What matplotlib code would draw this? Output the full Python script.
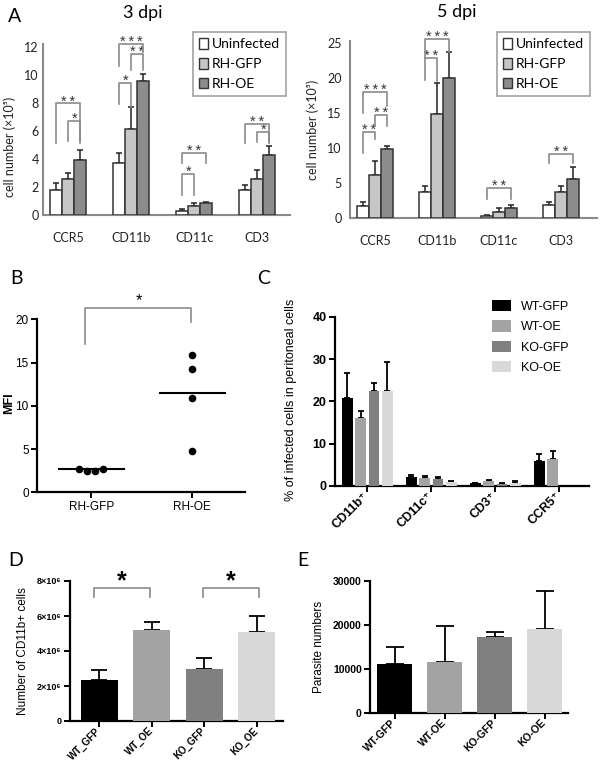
import matplotlib
matplotlib.use("Agg")
import numpy as np
import matplotlib.pyplot as plt
from matplotlib.patches import Patch

# ---- data ----
markers_a = ["CCR5", "CD11b", "CD11c", "CD3"]
groups_a = ["Uninfected", "RH-GFP", "RH-OE"]

d3_uninf = [1.75, 3.7, 0.32, 1.8]
d3_uninf_err = [0.55, 0.7, 0.08, 0.35]
d3_gfp = [2.55, 6.1, 0.65, 2.6]
d3_gfp_err = [0.45, 1.6, 0.18, 0.6]
d3_oe = [3.9, 9.55, 0.83, 4.3]
d3_oe_err = [0.7, 0.5, 0.07, 0.65]

d5_uninf = [1.75, 3.8, 0.38, 1.95]
d5_uninf_err = [0.6, 0.85, 0.14, 0.38]
d5_gfp = [6.2, 14.9, 0.95, 3.8]
d5_gfp_err = [2.0, 4.5, 0.5, 0.8]
d5_oe = [9.85, 20.1, 1.45, 5.55]
d5_oe_err = [0.5, 3.6, 0.38, 1.8]

# (group, bar_i, bar_j, top, left leg end, right leg end, label)
d3_sig = [(0, 0, 2, 7.95, 5.1, 5.1, "**"), (0, 1, 2, 6.7, 5.3, 5.3, "*"),
          (1, 0, 2, 12.2, 10.6, 11.6, "***"), (1, 1, 2, 11.5, 10.3, 10.3, "**"),
          (1, 0, 1, 9.4, 7.9, 7.7, "*"),
          (2, 0, 2, 4.45, 3.7, 3.7, "**"), (2, 0, 1, 2.95, 1.45, 1.45, "*"),
          (3, 0, 2, 6.5, 5.1, 5.1, "**"), (3, 1, 2, 5.95, 5.2, 5.2, "*")]
d5_sig = [(0, 0, 2, 18.0, 15.0, 16.0, "***"), (0, 1, 2, 14.76, 13.2, 13.2, "**"),
          (0, 0, 1, 12.4, 9.3, 11.3, "**"),
          (1, 0, 2, 25.6, 22.9, 23.8, "***"), (1, 0, 1, 22.9, 19.8, 19.6, "**"),
          (2, 0, 2, 4.3, 2.7, 2.7, "**"),
          (3, 0, 2, 9.2, 7.9, 7.9, "**")]

b_groups = ["RH-GFP", "RH-OE"]
b_gfp = [2.75, 2.5, 2.5, 2.75]
b_oe = [15.9, 14.3, 10.9, 4.75]
b_center = [2.65, 11.45]

c_markers = ["CD11b⁺", "CD11c⁺", "CD3⁺", "CCR5⁺"]
c_groups = ["WT-GFP", "WT-OE", "KO-GFP", "KO-OE"]
c_wt_gfp = [20.9, 2.2, 0.6, 5.8]
c_wt_gfp_err = [5.7, 0.3, 0.1, 1.7]
c_wt_oe = [16.0, 2.0, 1.2, 6.3]
c_wt_oe_err = [1.7, 0.35, 0.2, 1.9]
c_ko_gfp = [22.5, 1.7, 0.5, 0]
c_ko_gfp_err = [1.9, 0.35, 0.1, 0]
c_ko_oe = [22.4, 0.9, 0.8, 0]
c_ko_oe_err = [7.0, 0.2, 0.4, 0]

d_labels = ["WT_GFP", "WT_OE", "KO_GFP", "KO_OE"]
d_vals = [2.35e6, 5.18e6, 2.98e6, 5.1e6]
d_err = [0.57e6, 0.5e6, 0.6e6, 0.9e6]

e_labels = ["WT-GFP", "WT-OE", "KO-GFP", "KO-OE"]
e_vals = [11100, 11450, 17300, 18950]
e_err = [3900, 8250, 1100, 8700]

# ---- style ----
CAL = ["Lato", "DejaVu Sans"]
ARI = ["Liberation Sans", "DejaVu Sans"]
a_colors = ["#ffffff", "#c6c6c6", "#8c8c8c"]
g_colors = ["#000000", "#a3a3a3", "#808080", "#d8d8d8"]
brk = "#8a8a8a"

W, H = 600, 770
fig = plt.figure(figsize=(6, 7.7), dpi=100)


def px_axes(x0, x1, ybot, ytop):
    return fig.add_axes([x0 / W, 1 - ybot / H, (x1 - x0) / W, (ybot - ytop) / H])


def panel_a(ax, vals, errs, sig, ylim, yticks, ypad):
    x = np.arange(4)
    offs = [-0.19, 0, 0.19]
    for k in range(3):
        ax.errorbar(x + offs[k], vals[k], yerr=[np.zeros(4), errs[k]], fmt="none",
                    ecolor="#222222", elinewidth=1.1, capsize=2.2, capthick=1.1, zorder=2)
        ax.bar(x + offs[k], vals[k], 0.19, color=a_colors[k], edgecolor="#333333",
               lw=1.1, zorder=3)
    for g, i, j, top, lb, rb, lab in sig:
        xl, xr = g + offs[i], g + offs[j]
        ax.plot([xl, xl, xr, xr], [lb, top, top, rb], color=brk, lw=1.2,
                clip_on=False, zorder=4)
        ax.annotate("\u2009".join(lab), ((xl + xr) / 2, top), xytext=(0, -1.5),
                    textcoords="offset points", ha="center", va="baseline",
                    fontsize=10.5, family=ARI, color="#333333", annotation_clip=False)
    ax.set_ylim(*ylim)
    ax.set_yticks(yticks)
    ax.set_xticks(x)
    ax.set_xticklabels(markers_a)
    for s in ["top", "right"]:
        ax.spines[s].set_visible(False)
    for s in ["left", "bottom"]:
        ax.spines[s].set_color(brk)
        ax.spines[s].set_linewidth(1.5)
    ax.tick_params(axis="x", length=0, pad=12)
    ax.tick_params(axis="y", length=0, pad=ypad)
    for t in ax.get_xticklabels() + ax.get_yticklabels():
        t.set_family(CAL)
        t.set_fontsize(9)
        t.set_color("#222222")


# ---- A: 3 dpi ----
ax1 = px_axes(43, 290, 215, 215 - 12.2 * 14.03)
panel_a(ax1, [d3_uninf, d3_gfp, d3_oe], [d3_uninf_err, d3_gfp_err, d3_oe_err],
        d3_sig, (0, 12.2), range(0, 13, 2), 3)
ax1.set_xlim(-0.4, 3.52)
fig.text(10 / W, 1 - 147 / H, "cell number (×10⁵)", rotation=90, ha="center",
         va="center", family=CAL, fontsize=9, color="#222222")
fig.text(143 / W, 1 - 13 / H, "3 dpi", ha="center", va="center", family=CAL, fontsize=13)

# ---- A: 5 dpi ----
ax2 = px_axes(350, 597, 218.3, 218.3 - 25.3 * 7.0)
panel_a(ax2, [d5_uninf, d5_gfp, d5_oe], [d5_uninf_err, d5_gfp_err, d5_oe_err],
        d5_sig, (0, 25.3), range(0, 26, 5), 6)
ax2.set_xlim(-0.4, 3.58)
fig.text(313 / W, 1 - 130 / H, "cell number (×10⁵)", rotation=90, ha="center",
         va="center", family=CAL, fontsize=9, color="#222222")
fig.text(457 / W, 1 - 12 / H, "5 dpi", ha="center", va="center", family=CAL, fontsize=13)

for xl in [193, 497]:
    handles = [Patch(facecolor=c, edgecolor="#333333", lw=1) for c in a_colors]
    leg = fig.legend(handles, groups_a, loc="upper left",
                     bbox_to_anchor=(xl / W, 1 - 32 / H), frameon=True, fancybox=False,
                     edgecolor=brk, prop=dict(family=CAL, size=10), handlelength=0.6,
                     handleheight=0.8, handletextpad=0.3, labelspacing=0.55,
                     borderpad=0.45, borderaxespad=0)
    leg.get_frame().set_linewidth(1.2)

# ---- B ----
axb = px_axes(37, 245, 492.3, 319.3)
off_b = [-0.12, -0.04, 0.04, 0.12]
axb.scatter(np.array(off_b) + 0, b_gfp, s=20, color="black", zorder=3)
axb.scatter(np.zeros(len(b_oe)) + 1, b_oe, s=20, color="black", zorder=3)
for i, m in enumerate(b_center):
    axb.plot([i - 0.32, i + 0.32], [m, m], color="black", lw=1.5)
axb.plot([-0.06, -0.06, 0.99, 0.99], [17.2, 21.27, 21.27, 19.7], color=brk, lw=1.2,
         clip_on=False)
axb.text(0.47, 22.2, "*", ha="center", va="center", fontsize=12, family=ARI)
axb.set_xlim(-0.535, 1.52)
axb.set_ylim(0, 20)
axb.set_yticks(range(0, 21, 5))
axb.set_xticks([0, 1])
axb.set_xticklabels(b_groups)
fig.text(9 / W, 1 - 403 / H, "MFI", rotation=90, ha="center", va="center",
         family=ARI, fontsize=9, fontweight="bold")

# ---- C ----
axc = px_axes(335, 589, 486, 316.7)
xc = np.arange(4)
offs_c = [-0.31, -0.1, 0.11, 0.32]
c_vals = [c_wt_gfp, c_wt_oe, c_ko_gfp, c_ko_oe]
c_errs = [c_wt_gfp_err, c_wt_oe_err, c_ko_gfp_err, c_ko_oe_err]
for k in range(4):
    axc.errorbar(xc + offs_c[k], c_vals[k], yerr=[np.zeros(4), c_errs[k]], fmt="none",
                 ecolor="black", elinewidth=1.3, capsize=2.5, capthick=1.3, zorder=2)
    axc.bar(xc + offs_c[k], c_vals[k], 0.17, color=g_colors[k], zorder=3)
axc.set_xlim(-0.5, 3.47)
axc.set_ylim(0, 40)
axc.set_yticks(range(0, 41, 10))
axc.set_xticks(xc)
axc.set_xticklabels(c_markers, rotation=45, ha="right", va="center",
                    rotation_mode="anchor")
fig.text(291 / W, 1 - 400 / H, "% of infected cells in peritoneal cells", rotation=90,
         ha="center", va="center", family=ARI, fontsize=9)
handles = [Patch(facecolor=c) for c in g_colors]
fig.legend(handles, c_groups, loc="upper left", bbox_to_anchor=(492 / W, 1 - 300 / H),
           frameon=False, prop=dict(family=ARI, size=9), handlelength=1.5,
           handleheight=1.0, handletextpad=0.8, labelspacing=0.6, borderaxespad=0,
           borderpad=0)

# ---- D ----
axd = px_axes(70, 283, 721, 581)
xd = np.arange(4)
axd.errorbar(xd, d_vals, yerr=[np.zeros(4), d_err], fmt="none", ecolor="black",
             elinewidth=1.3, capsize=6, capthick=1.3, zorder=2)
axd.bar(xd, d_vals, 0.71, color=g_colors, zorder=3)
for xl, xr in [(-0.1, 0.966), (1.975, 3.04)]:
    axd.plot([xl, xl, xr, xr], [7.07e6, 7.62e6, 7.62e6, 7.07e6], color=brk, lw=1.2,
             clip_on=False)
    axd.text((xl + xr) / 2, 8.0e6, "*", ha="center", va="center", fontsize=18,
             fontweight="bold", family=ARI)
axd.set_xlim(-0.56, 3.5)
axd.set_ylim(0, 8e6)
axd.set_yticks([0, 2e6, 4e6, 6e6, 8e6])
axd.set_yticklabels(["0", "2×10⁶", "4×10⁶", "6×10⁶", "8×10⁶"])
axd.set_xticks(xd)
axd.set_xticklabels(d_labels, rotation=45, ha="right", va="center", rotation_mode="anchor")
axd.set_ylabel("Number of CD11b+ cells", family=ARI, fontsize=8.5, labelpad=6)

# ---- E ----
axe = px_axes(370, 568, 712.7, 580.7)
xe = np.arange(4)
axe.errorbar(xe, e_vals, yerr=[np.zeros(4), e_err], fmt="none", ecolor="black",
             elinewidth=1.3, capsize=6.5, capthick=1.3, zorder=2)
axe.bar(xe, e_vals, 0.69, color=g_colors, zorder=3)
axe.set_xlim(-0.49, 3.47)
axe.set_ylim(0, 30000)
axe.set_yticks([0, 10000, 20000, 30000])
axe.set_xticks(xe)
axe.set_xticklabels(e_labels, rotation=45, ha="right", va="center", rotation_mode="anchor")
axe.set_ylabel("Parasite numbers", family=ARI, fontsize=8.5, labelpad=6)

for ax, fs, bold in [(axb, 8.5, False), (axc, 9, True), (axd, 7, True), (axe, 7.5, True)]:
    for s in ["top", "right"]:
        ax.spines[s].set_visible(False)
    for s in ["left", "bottom"]:
        ax.spines[s].set_linewidth(1.6)
    ax.tick_params(length=4, width=1.4, pad=2)
    for t in ax.get_xticklabels() + ax.get_yticklabels():
        t.set_family(ARI)
        t.set_fontsize(fs)
        if bold:
            t.set_fontweight("bold")
axd.tick_params(axis="y", labelsize=6.5)

# panel letters
for lab, x, y in [("A", 8, 17), ("B", 10, 278), ("C", 257, 278), ("D", 8, 560),
                  ("E", 297, 560)]:
    fig.text(x / W, 1 - y / H, lab, ha="left", va="center", family=CAL, fontsize=14)

fig.savefig("out.png", dpi=100)
